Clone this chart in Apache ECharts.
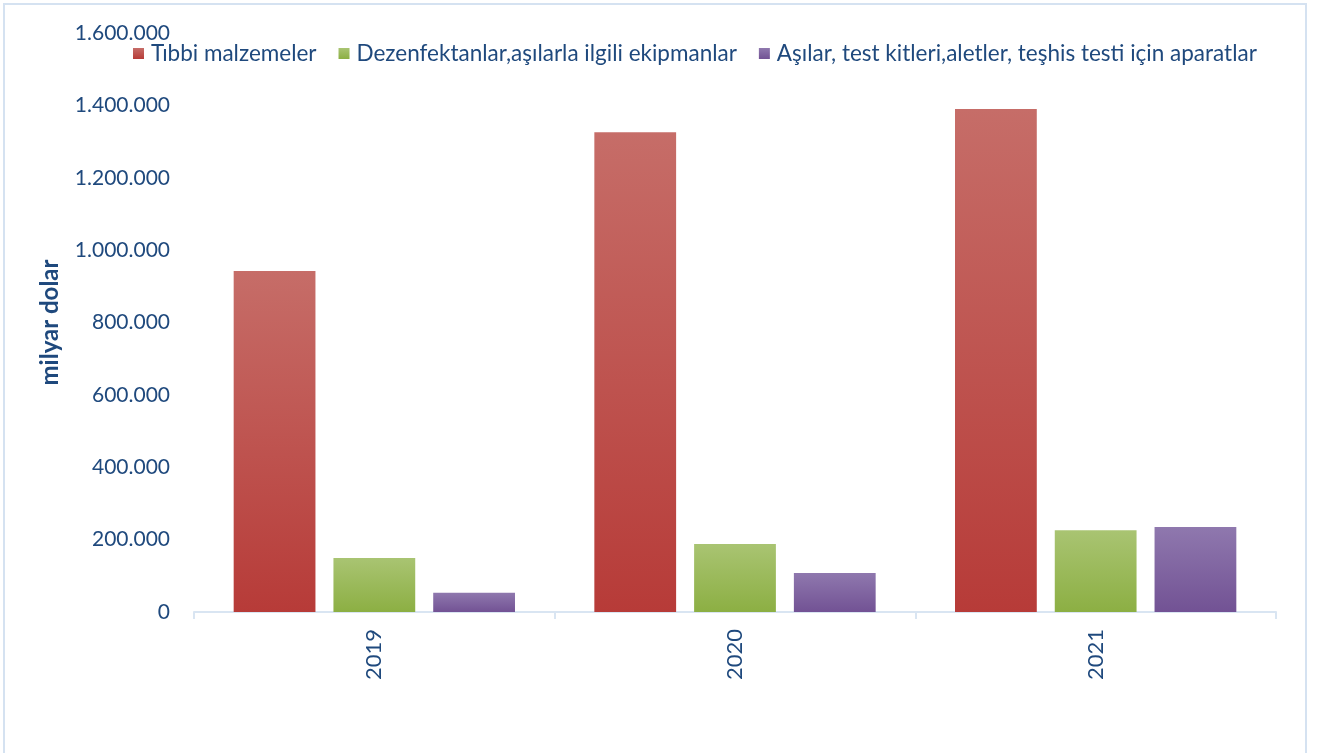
<!DOCTYPE html>
<html>
<head>
<meta charset="utf-8">
<script src="https://cdn.jsdelivr.net/npm/echarts@6/dist/echarts.min.js"></script>
<style>
  html, body { margin: 0; padding: 0; background: #fff; }
  #chart { width: 1317px; height: 753px; }
</style>
</head>
<body>
<div id="chart"></div>
<script>
const years = ["2019", "2020", "2021"];
const seriesNames = [
  "Tıbbi malzemeler",
  "Dezenfektanlar,aşılarla ilgili ekipmanlar",
  "Aşılar, test kitleri,aletler, teşhis testi için aparatlar"
];
const tibbi = [942000, 1326000, 1390000];
const dezenfektan = [149000, 188000, 226000];
const asilar = [53000, 108000, 235000];

const textColor = "#1F497D";
const fontFamily = "Lato, 'Open Sans', sans-serif";

function grad(top, bottom) {
  return new echarts.graphic.LinearGradient(0, 0, 0, 1, [
    { offset: 0, color: top },
    { offset: 1, color: bottom },
  ]);
}

// 1600000 -> "1.600.000"
function fmt(v) {
  return String(v).replace(/\B(?=(\d{3})+(?!\d))/g, ".");
}

const chart = echarts.init(document.getElementById("chart"));

const option = {
  backgroundColor: "#ffffff",
  animation: false,
  graphic: [
    {
      type: "rect",
      shape: { x: 4, y: 4, width: 1302, height: 770 },
      style: { fill: "none", stroke: "#D5E2F1", lineWidth: 2 },
      silent: true,
    },
  ],
  legend: {
    left: 128,
    top: 37,
    itemWidth: 11,
    itemHeight: 11,
    itemGap: 22,
    icon: "rect",
    textStyle: { color: textColor, fontFamily: fontFamily, fontSize: 22.5, padding: [0, 0, 0, 2] },
    data: seriesNames,
  },
  grid: {
    left: 194,
    right: 41,
    top: 33,
    bottom: 141,
    outerBoundsMode: "none",
  },
  xAxis: {
    type: "category",
    data: years,
    axisLine: { lineStyle: { color: "#D9E5F2", width: 2 } },
    axisTick: { show: true, length: 7, lineStyle: { color: "#D9E5F2", width: 2 } },
    axisLabel: {
      rotate: 90,
      color: textColor,
      fontFamily: fontFamily,
      fontSize: 22,
      margin: 17,
    },
  },
  yAxis: {
    type: "value",
    min: 0,
    max: 1600000,
    interval: 200000,
    name: "milyar dolar",
    nameLocation: "middle",
    nameGap: 132,
    nameRotate: 90,
    nameTextStyle: {
      color: textColor,
      fontFamily: fontFamily,
      fontSize: 24,
      fontWeight: "bold",
    },
    axisLine: { show: false },
    axisTick: { show: false },
    splitLine: { show: false },
    axisLabel: {
      color: textColor,
      fontFamily: fontFamily,
      fontSize: 21,
      margin: 24,
      formatter: fmt,
    },
  },
  series: [
    {
      name: seriesNames[0],
      type: "bar",
      data: tibbi,
      barGap: "22%",
      barCategoryGap: "22%",
      itemStyle: { color: grad("#C66D68", "#B73B38") },
    },
    {
      name: seriesNames[1],
      type: "bar",
      data: dezenfektan,
      itemStyle: { color: grad("#A9C472", "#8CAF43") },
    },
    {
      name: seriesNames[2],
      type: "bar",
      data: asilar,
      itemStyle: { color: grad("#8F78AE", "#725294") },
    },
  ],
};

chart.setOption(option);
</script>
</body>
</html>
